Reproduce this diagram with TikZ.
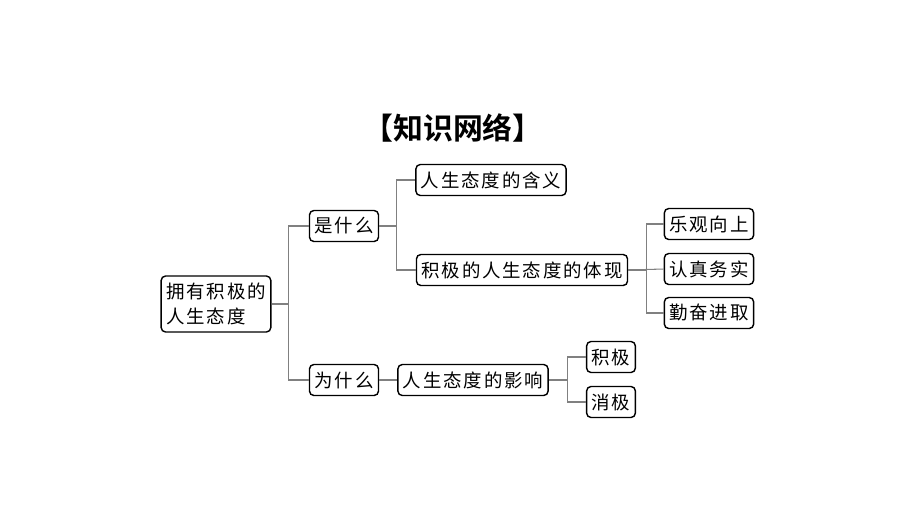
\documentclass[tikz,border=0pt]{standalone}
\usepackage{fontspec}
\newfontfamily\cjk[LetterSpace=10]{Noto Sans CJK SC}
\newfontfamily\cjktitle{Noto Sans CJK SC Bold}
\usetikzlibrary{positioning}

\begin{document}
\begin{tikzpicture}[x=0.02cm,y=-0.02cm,
    box/.style={draw=black,thick,rounded corners=2.5pt,fill=white,
      minimum height=0.62cm,inner xsep=0.1cm,inner ysep=0pt,
      font=\cjk\fontsize{10.5pt}{14.7pt}\selectfont},
    conn/.style={draw=black!50,line width=0.6pt}]
    \useasboundingbox (0,0) rectangle (920,515);
    \node (title) at (453,128) {\cjktitle\fontsize{17pt}{20pt}\selectfont 【知识网络】};
			\begin{scope}[every node/.style={box}]
    \node[align=left,minimum height=1.12cm] (root) at (216,304) {拥有积极的\\人生态度};
    \node (shi) at (344,226) {是什么};
    \node (wei) at (344,380) {为什么};
    \node (hanyi) at (491,180) {人生态度的含义};
    \node (tixian) at (522,270) {积极的人生态度的体现};
    \node (yingxiang) at (473,380) {人生态度的影响};
    \node (leguan) at (709,224) {乐观向上};
    \node (renzhen) at (709,269) {认真务实};
    \node (qinfen) at (709,313) {勤奋进取};
    \node (jiji) at (611,357) {积极};
    \node (xiaoji) at (611,402) {消极};
			\end{scope}
			\begin{scope}[every path/.style={conn}]
    \draw (root.east) -- +(17,0) |- (shi.west);
    \draw (root.east) -- +(17,0) |- (wei.west);
    \draw (shi.east) -- +(17,0) |- (hanyi.west);
    \draw (shi.east) -- +(17,0) |- (tixian.west);
    \draw (tixian.east) -- +(18,0) |- (leguan.west);
    \draw (tixian.east) -- (renzhen.west);
    \draw (tixian.east) -- +(18,0) |- (qinfen.west);
    \draw (wei) -- (yingxiang);
    \draw (yingxiang.east) -- +(19,0) |- (jiji.west);
    \draw (yingxiang.east) -- +(19,0) |- (xiaoji.west);
			\end{scope}
		\end{tikzpicture}
\end{document}
